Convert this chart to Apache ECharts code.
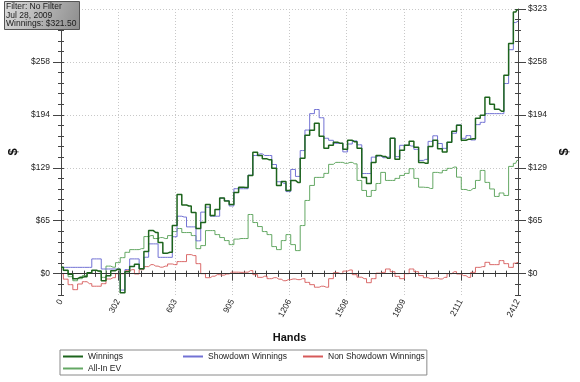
<!DOCTYPE html>
<html><head><meta charset="utf-8">
<script src="https://cdn.jsdelivr.net/npm/echarts@6/dist/echarts.min.js"></script>
<style>html,body{margin:0;padding:0;background:#fff}#c{width:580px;height:382px}</style>
</head><body><div id="c"></div>
<script>
// x positions (hand numbers)
const hands = [0,25,50,75,100,125,150,175,200,225,250,275,300,325,350,375,400,425,450,475,500,525,550,575,600,625,650,675,700,725,750,775,800,825,850,875,900,925,950,975,1000,1025,1050,1075,1100,1125,1150,1175,1200,1225,1250,1275,1300,1325,1350,1375,1400,1425,1450,1475,1500,1525,1550,1575,1600,1625,1650,1675,1700,1725,1750,1775,1800,1825,1850,1875,1900,1925,1950,1975,2000,2025,2050,2075,2100,2125,2150,2175,2200,2225,2250,2275,2300,2325,2350,2375,2400,2412];

const winnings = [7.7,4.3,-0.6,-6.1,-4.5,-3.7,1.2,4.3,3.1,-8.6,
-2.4,3.7,5.5,-23.2,2.4,8.6,11.6,6.1,26.9,52.5,
50.1,37.9,25.0,26.0,58.6,96.5,83.7,82.5,74.5,55.0,
62.3,84.3,70.9,78.2,92.2,88.6,84.3,98.9,105.4,105.1,
119.7,147.8,144.1,139.9,138.7,128.3,107.5,112.4,101.4,113.6,
111.2,140.5,168.6,174.7,183.2,167.4,152.7,156.4,160.0,158.8,
151.5,162.5,160.6,152.7,117.3,109.9,135.6,144.1,142.9,140.5,
164.9,139.3,150.3,156.4,161.2,153.9,135.6,134.4,155.1,162.5,
152.1,148.2,160.0,173.5,180.8,162.5,163.7,164.5,189.3,193.0,
215,206.4,200.3,197.9,241.9,280.6,318.8,321.5];

const showdown = [7.7,7.7,7.7,7.7,7.7,7.7,7.7,18.0,18.0,5.7,
5.7,5.7,5.7,-20,5,18,18,6,20,36.3,
36.3,19.9,19.9,19.9,45,70,69,57,57,40,
75,81,70,70,92,89,82.5,103.5,103.5,103.5,
120,144,146,144,144,133,112,110,100,127,
118.5,150,175,195,200,190,165,162.5,158.8,158.8,
148.4,158,161.8,157,122,122,142,143.5,141.3,142,
165,142.6,156.4,156.4,155.5,151.5,138,139.3,161.2,168,
158.6,152.7,160,171.1,181.2,164.9,168.2,162.9,181.6,184.4,
195,195,195,195,231.7,272.9,306,307.7];

const nonShowdown = [0,-6.7,-13.4,-19.5,-12.6,-9.8,-12.2,-15.3,-15.3,-12.2,
-6.5,-4.9,0,0,3.7,4.9,-0.4,4.9,8.6,11.0,
9.2,7.9,9.2,11.8,11.0,14.7,14.7,23.2,22.0,12.2,
0,-4.9,-3.1,-1.2,-1.8,-0.4,1.8,1.8,1.6,1.8,
3.7,-1.2,-4.5,-3.1,-6.1,-4.9,-6.7,-8.6,-7.3,-6.5,
-7.3,-6.1,-10.6,-13.4,-16.5,-15.3,-16.5,-6.1,1.2,0,
3.1,4.5,-1.2,-4.3,-6.1,-11.0,-6.1,0.6,1.6,5.7,
2.4,-3.3,-6.1,0,5.7,2.4,-2.4,-4.9,-6.1,-5.5,
-6.5,-4.5,0,2.4,-0.4,-2.4,-4.5,1.6,7.7,8.6,
13.8,11.0,11.0,15.9,12.2,7.7,12.8,13.8];

const allInEV = [7.7,3.7,-3.7,-8.6,-6.1,-2.4,1.2,3.7,2.4,-4.5,
9.2,7.9,13.4,19.5,26.0,29.3,29.3,30.5,45.2,46.4,
42.8,44.0,42.8,46.4,51.3,55.0,50.1,50.1,46.4,30.5,
34.2,52.5,52.5,47.6,44.0,40.3,35.4,42.1,42.8,42.8,
72.1,62.3,57.4,51.3,47.6,33.0,29.3,40.3,47.6,35.4,
28.1,58.6,89.2,107.5,117.3,117.3,122.2,133.2,135.6,135.6,
134.4,135.6,133.8,113.6,101.4,94.1,101.4,109.9,123.4,113.6,
113.6,116.1,119.7,122.2,127.9,116.1,105.4,105.1,103.8,123.4,
122.8,125.8,128.3,129.9,117.6,102.6,101.4,103.8,113.6,125.8,
111.2,103.2,94.1,98.3,95.3,130.7,134.4,138.0];

const yMajorTicks = [0,64.5,129,193.5,258,322.5];
const yMinorTicks = [-25.8,-12.9,0,12.9,25.8,38.7,51.6,64.5,77.4,90.3,103.2,116.1,129,141.9,154.8,167.7,180.6,193.5,206.4,219.3,232.2,245.1,258,270.9,283.8,296.7,309.6,322.5];
const legendNames = ['Winnings','Showdown Winnings','Non Showdown Winnings','All-In EV'];
const titleLines = ['Filter: No Filter','Jul 28, 2009','Winnings: $321.50'];

const FONT = '"Liberation Sans", Arial, sans-serif';
const AX = '#444';
const yMin = -26, yMax = 322.5;

function mk(name, vals, color, width, z, step, extra) {
  return Object.assign({
    name, type: 'line', data: hands.map((h, i) => [h, vals[i]]),
    symbol: 'none', showSymbol: false, step: step, legendIcon: 'rect',
    lineStyle: { color, width }, itemStyle: { color }, z,
    xAxisIndex: 0, yAxisIndex: 0, animation: false
  }, extra || {});
}

function yAx(pos, opts) {
  return Object.assign({
    type: 'value', position: pos, min: yMin, max: yMax,
    axisLine: { show: false }, axisTick: { show: false }, axisLabel: { show: false },
    splitLine: { show: false }
  }, opts);
}
function xAx(pos, opts) {
  return Object.assign({
    type: 'value', position: pos, min: 0, max: 2412, interval: 301.5,
    axisLine: { show: false }, axisTick: { show: false }, axisLabel: { show: false },
    splitLine: { show: false }, minorTick: { show: false }
  }, opts);
}
const labelFmt = v => '$' + Math.round(v);

const chart = echarts.init(document.getElementById('c'), null, { renderer: 'canvas' });
chart.setOption({
  animation: false,
  backgroundColor: '#ffffff',
  textStyle: { fontFamily: FONT },
  title: {
    text: titleLines.join('\n'), left: 4, top: 1,
    padding: [1, 3, 1, 2],
    backgroundColor: new echarts.graphic.LinearGradient(0, 0, 1, 1, [
      { offset: 0, color: '#dcdcdc' }, { offset: 1, color: '#8c8c8c' }]),
    borderColor: '#555', borderWidth: 1,
    textStyle: { fontSize: 8.5, fontWeight: 'normal', lineHeight: 8.8, color: '#1a1a1a', fontFamily: FONT }
  },
  grid: { left: 61, top: 9, width: 457, height: 286, containLabel: false, outerBoundsMode: 'none' },
  legend: {
    data: legendNames, left: 60, top: 350, width: 380, orient: 'horizontal',
    padding: [1, 2, 1, 2], itemGap: 1, itemWidth: 20, itemHeight: 1,
    borderColor: '#8a8a8a', borderWidth: 1, backgroundColor: '#fff',
    textStyle: { fontSize: 8.5, color: '#222', width: 93, lineHeight: 11, fontFamily: FONT },
    selectedMode: false
  },
  xAxis: [
    xAx('bottom', {
      axisLine: { show: true, lineStyle: { color: AX } },
      axisTick: { show: true, length: 7, lineStyle: { color: AX } },
      minorTick: { show: true, splitNumber: 5, length: 3, lineStyle: { color: AX } },
      axisLabel: { show: true, rotate: 62, fontSize: 8.5, color: '#222', margin: 5,
        formatter: v => String(Math.round(v)), fontFamily: FONT },
      splitLine: { show: true, lineStyle: { color: '#c8c8c8', type: [1, 2] } },
      name: 'Hands', nameLocation: 'middle', nameGap: 37,
      nameTextStyle: { fontWeight: 'bold', fontSize: 11, color: '#111', fontFamily: FONT }
    }),
    xAx('bottom', {
      axisTick: { show: true, inside: true, length: 3, lineStyle: { color: AX } },
      minorTick: { show: true, splitNumber: 5, length: 3, lineStyle: { color: AX } }
    }),
    xAx('top', {
      axisLine: { show: true, lineStyle: { color: AX } },
      axisTick: { show: true, inside: true, length: 3, lineStyle: { color: AX } },
      minorTick: { show: true, splitNumber: 5, length: 3, lineStyle: { color: AX } }
    })
  ],
  yAxis: [
    yAx('left', {
      axisLine: { show: true, lineStyle: { color: AX } },
      axisTick: { show: true, length: 8, customValues: yMajorTicks, lineStyle: { color: AX } },
      axisLabel: { show: true, customValues: yMajorTicks, formatter: labelFmt, fontSize: 8.5,
        color: '#222', margin: 11, fontFamily: FONT },
      splitLine: { show: true, lineStyle: { color: '#c8c8c8', type: [1, 2] } },
      name: '$', nameLocation: 'middle', nameGap: 35, nameRotate: 90,
      nameTextStyle: { fontWeight: 'bold', fontSize: 13, color: '#111', fontFamily: FONT }
    }),
    yAx('left', { axisTick: { show: true, length: 3, customValues: yMinorTicks, lineStyle: { color: AX } } }),
    yAx('left', { axisTick: { show: true, inside: true, length: 3, customValues: yMinorTicks, lineStyle: { color: AX } } }),
    yAx('right', {
      axisLine: { show: true, lineStyle: { color: AX } },
      axisTick: { show: true, length: 8, customValues: yMajorTicks, lineStyle: { color: AX } },
      axisLabel: { show: true, customValues: yMajorTicks, formatter: labelFmt, fontSize: 8.5,
        color: '#222', margin: 10, fontFamily: FONT },
      name: '$', nameLocation: 'middle', nameGap: 38, nameRotate: 90,
      nameTextStyle: { fontWeight: 'bold', fontSize: 13, color: '#111', fontFamily: FONT }
    }),
    yAx('right', { axisTick: { show: true, length: 3, customValues: yMinorTicks, lineStyle: { color: AX } } }),
    yAx('right', { axisTick: { show: true, inside: true, length: 3, customValues: yMinorTicks, lineStyle: { color: AX } } })
  ],
  series: [
    mk('All-In EV', allInEV, '#64a864', 1, 2, 'middle', {
      markLine: { silent: true, symbol: ['none', 'none'], label: { show: false },
        lineStyle: { color: '#333', width: 1, type: 'solid' }, animation: false,
        data: [{ yAxis: 0 }] }
    }),
    mk('Non Showdown Winnings', nonShowdown, '#d65a5a', 0.9, 3, 'middle'),
    mk('Showdown Winnings', showdown, '#7272d4', 1, 4, 'middle'),
    mk('Winnings', winnings, '#1d641d', 1.5, 5, 'middle')
  ]
});
</script></body></html>
